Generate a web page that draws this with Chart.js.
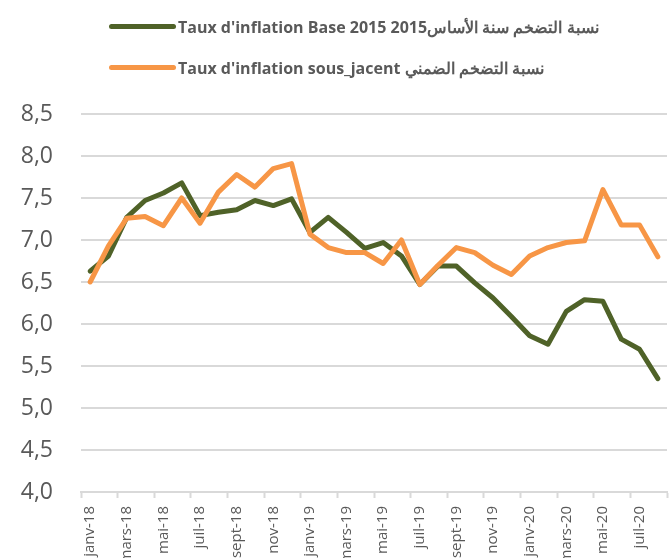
<!DOCTYPE html>
<html lang="fr">
<head>
    <meta charset="UTF-8">
    <title>Taux d'inflation</title>
    <style>
        html, body { margin: 0; padding: 0; background: #fff; overflow: hidden; }
        #wrap { position: relative; width: 669px; height: 558px; overflow: hidden; }
        #legend { position: absolute; left: 0; top: 0; width: 669px; }
        .item { position: absolute; left: 109px; height: 20px; white-space: nowrap; }
        .swatch { position: absolute; left: 0; top: 8px; width: 67px; height: 5px; border-radius: 3px; }
        .txt { position: absolute; left: 69px; top: 0; line-height: 20px;
               font: bold 16px "Open Sans", "Liberation Sans", Arial, sans-serif; color: #595959; }
    </style>
</head>
<body>

<div id="wrap">
    <canvas id="myChart" width="669" height="558"></canvas>
    <div id="legend"></div>
</div>

<script src="https://cdn.jsdelivr.net/npm/chart.js@4.4.1/dist/chart.umd.min.js"></script>

<script>
    // months, janv-18 .. août-20
    var months = [
        'janv-18', 'févr-18', 'mars-18', 'avr-18', 'mai-18', 'juin-18',
        'juil-18', 'août-18', 'sept-18', 'oct-18', 'nov-18', 'déc-18',
        'janv-19', 'févr-19', 'mars-19', 'avr-19', 'mai-19', 'juin-19',
        'juil-19', 'août-19', 'sept-19', 'oct-19', 'nov-19', 'déc-19',
        'janv-20', 'févr-20', 'mars-20', 'avr-20', 'mai-20', 'juin-20',
        'juil-20', 'août-20'
    ];

    var base2015 = [
        6.63, 6.81, 7.27, 7.47, 7.56, 7.68, 7.29, 7.33, 7.36, 7.47, 7.41, 7.49,
        7.09, 7.27, 7.09, 6.90, 6.97, 6.81, 6.47, 6.69, 6.69, 6.49, 6.31, 6.09,
        5.86, 5.76, 6.15, 6.29, 6.27, 5.82, 5.70, 5.35
    ];

    var sousJacent = [
        6.50, 6.93, 7.26, 7.28, 7.17, 7.50, 7.20, 7.57, 7.78, 7.63, 7.85, 7.91,
        7.07, 6.91, 6.85, 6.85, 6.72, 7.00, 6.47, 6.70, 6.91, 6.85, 6.70, 6.59,
        6.81, 6.91, 6.97, 6.99, 7.60, 7.18, 7.18, 6.80
    ];

    var seriesNames = [
        "Taux d'inflation Base 2015 2015نسبة التضخم سنة الأساس",
        "Taux d'inflation sous_jacent نسبة التضخم الضمني"
    ];

    var yMin = 4.0, yMax = 8.5, yStep = 0.5;

    var gridGrey = '#d9d9d9';
    var textGrey = '#595959';

    var dataSource = {
        labels: months,
        datasets: [
            {
                label: seriesNames[0],
                data: base2015,
                borderColor: '#4f6228',
                order: 1
            },
            {
                label: seriesNames[1],
                data: sousJacent,
                borderColor: '#f79646',
                order: 0
            }
        ]
    };

    dataSource.datasets.forEach(function (ds) {
        ds.borderWidth = 5;
        ds.pointRadius = 0;
        ds.tension = 0;
        ds.fill = false;
        ds.borderCapStyle = 'round';
        ds.borderJoinStyle = 'round';
    });

    function buildLegend() {
        var box = document.getElementById('legend');
        var tops = [16, 57];
        dataSource.datasets.forEach(function (ds, i) {
            var item = document.createElement('div');
            item.className = 'item';
            item.style.top = tops[i] + 'px';
            var sw = document.createElement('span');
            sw.className = 'swatch';
            sw.style.background = ds.borderColor;
            var tx = document.createElement('span');
            tx.className = 'txt';
            tx.dir = 'ltr';
            tx.textContent = ds.label;
            item.appendChild(sw);
            item.appendChild(tx);
            box.appendChild(item);
        });
    }

    function createChart() {
        var ctx = document.getElementById('myChart').getContext('2d');
        new Chart(ctx, {
            type: 'line',
            data: dataSource,
            options: {
                responsive: false,
                animation: false,
                layout: { padding: { top: 114, right: 2, left: 0, bottom: 0 } },
                plugins: {
                    legend: { display: false },
                    tooltip: { enabled: false }
                },
                scales: {
                    x: {
                        offset: true,
                        grid: {
                            offset: true,
                            drawOnChartArea: false,
                            drawTicks: true,
                            tickLength: 6,
                            tickWidth: 2,
                            tickColor: function (c) {
                                return (c.index === undefined || c.index % 2 === 0) ? gridGrey : 'rgba(0,0,0,0)';
                            }
                        },
                        border: { display: true, color: gridGrey, width: 2 },
                        ticks: {
                            autoSkip: false,
                            minRotation: 90,
                            maxRotation: 90,
                            padding: 8,
                            color: textGrey,
                            font: { family: 'Open Sans', size: 15 },
                            callback: function (v, i) {
                                return i % 2 === 0 ? months[i] : '';
                            }
                        },
                        afterFit: function (scale) {
                            scale.height = 66;
                            scale.paddingLeft = 0;
                            scale.paddingRight = 0;
                        }
                    },
                    y: {
                        min: yMin,
                        max: yMax,
                        grid: { color: gridGrey, lineWidth: 2, drawTicks: false },
                        border: { display: false },
                        ticks: {
                            stepSize: yStep,
                            padding: 28,
                            color: textGrey,
                            font: { family: 'Open Sans', size: 23 },
                            callback: function (v) {
                                return v.toFixed(1).replace('.', ',');
                            }
                        },
                        afterFit: function (scale) {
                            scale.width = 81;
                            scale.paddingTop = 0;
                            scale.paddingBottom = 0;
                        }
                    }
                }
            }
        });
    }

    buildLegend();
    createChart();
</script>

</body>
</html>
